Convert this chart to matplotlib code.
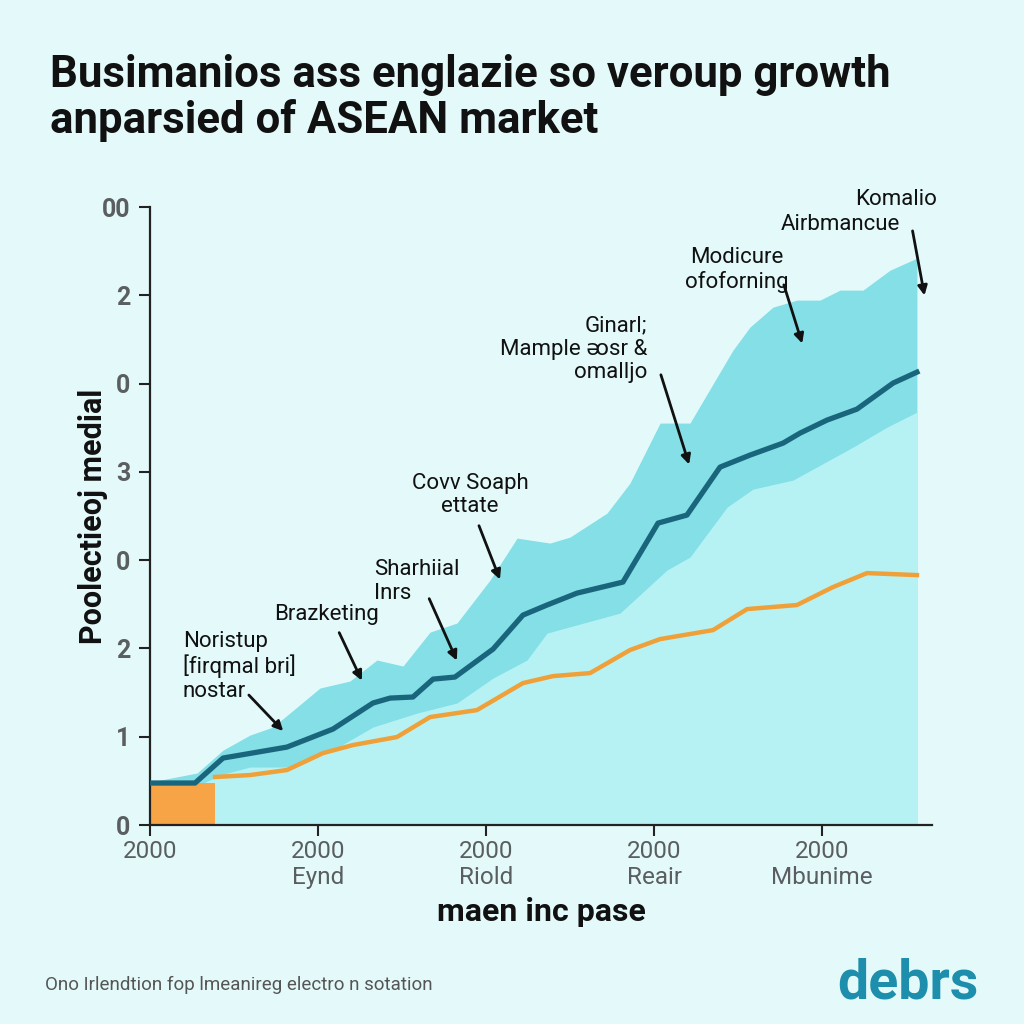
import matplotlib
matplotlib.use("Agg")
import matplotlib.pyplot as plt

# series (x in tick units, y in axis units)
upper_x = [0, 0.280, 0.435, 0.595, 0.732, 1.012, 1.190, 1.351, 1.506, 1.667, 1.827, 2.024, 2.185,
           2.381, 2.500, 2.720, 2.857, 3.036, 3.214, 3.470, 3.571, 3.708, 3.851, 3.988, 4.107,
           4.244, 4.405, 4.565]
upper_y = [0.487, 0.589, 0.849, 1.019, 1.110, 1.552, 1.631, 1.869, 1.801, 2.186, 2.288, 2.775, 3.250,
           3.194, 3.262, 3.533, 3.873, 4.553, 4.553, 5.379, 5.640, 5.866, 5.946, 5.946, 6.059,
           6.059, 6.285, 6.421]

lower_x = [0, 0.268, 0.417, 0.595, 0.815, 1.089, 1.327, 1.589, 1.827, 2.042, 2.244, 2.363, 2.798,
           3.077, 3.214, 3.435, 3.589, 3.827, 4.185, 4.387, 4.565]
lower_y = [0.419, 0.430, 0.566, 0.657, 0.657, 0.849, 1.110, 1.268, 1.382, 1.665, 1.869, 2.174, 2.401,
           2.888, 3.035, 3.601, 3.805, 3.907, 4.281, 4.507, 4.677]

main_x = [0, 0.268, 0.435, 0.815, 1.089, 1.327, 1.429, 1.565, 1.685, 1.815, 2.042, 2.220, 2.363,
          2.542, 2.815, 3.024, 3.196, 3.393, 3.571, 3.768, 3.869, 4.030, 4.208, 4.423, 4.565]
main_y = [0.476, 0.476, 0.759, 0.883, 1.087, 1.382, 1.438, 1.450, 1.653, 1.676, 1.993, 2.378, 2.492,
          2.627, 2.752, 3.420, 3.511, 4.054, 4.190, 4.326, 4.439, 4.587, 4.711, 5.006, 5.130]

orange_x = [0.387, 0.595, 0.815, 1.030, 1.208, 1.470, 1.667, 1.946, 2.220, 2.399, 2.619, 2.857,
            3.036, 3.351, 3.554, 3.851, 4.065, 4.268, 4.565]
orange_y = [0.544, 0.566, 0.623, 0.815, 0.906, 0.997, 1.223, 1.302, 1.608, 1.687, 1.721, 1.982,
            2.106, 2.208, 2.446, 2.492, 2.695, 2.854, 2.831]

bar_x = 0
bar_w = 0.387
bar_h = 0.476

yticks = [0, 1, 2, 3, 4, 5, 6, 7]
ytick_labels = ['0', '1', '2', '0', '3', '0', '2', '00']
xticks = [0, 1, 2, 3, 4]
xtick_labels = ['2000', '2000\nEynd', '2000\nRiold', '2000\nReair', '2000\nMbunime']

# (text, text pos, ha, arrow tail, arrow head)
notes = [
    ("Noristup\n[firqmal bri]\nnostar", (0.196, 1.80), 'left', (0.577, 1.495), (0.804, 1.042)),
    ("Brazketing", (1.048, 2.39), 'center', (1.119, 2.208), (1.268, 1.608)),
    ("Sharhiial\nInrs", (1.333, 2.76), 'left', (1.655, 2.593), (1.833, 1.835)),
    ("Covv Soaph\nettate", (1.905, 3.74), 'center', (1.952, 3.420), (2.089, 2.752)),
    ("Ginarl;\nMample ᴔsr &\nomalljo", (2.958, 5.39), 'right', (3.036, 5.130), (3.214, 4.054)),
    ("Modicure\nofoforning", (3.494, 6.285), 'center', (3.768, 6.149), (3.887, 5.425)),
    ("Komalio", (4.685, 7.089), 'right', None, None),
    ("Airbmancue", (4.464, 6.806), 'right', (4.536, 6.761), (4.613, 5.968)),
]

bg = '#e4fafa'
plt.rcParams['font.family'] = ['Roboto', 'DejaVu Sans']

fig = plt.figure(figsize=(10.24, 10.24), dpi=100, facecolor=bg)
ax = fig.add_axes([0.1465, 0.1943, 0.7637, 0.6035])
ax.set_facecolor(bg)

ax.fill_between(upper_x, upper_y, 0, color='#84dfe6', lw=0, zorder=1)
ax.fill_between(lower_x, 0, lower_y, color='#b6f2f4', lw=0, zorder=1.5)
ax.bar(bar_x, bar_h, width=bar_w, align='edge', color='#f6a445', zorder=2)
ax.plot(orange_x, orange_y, color='#f0a038', lw=3.2, zorder=3)
ax.plot(main_x, main_y, color='#19667c', lw=3.8, zorder=4)

for txt, pos, ha, tail, head in notes:
    ax.text(pos[0], pos[1], txt, ha=ha, va='center', fontsize=16, color='#111111',
            linespacing=1.15, zorder=6)
    if tail is not None:
        ax.annotate('', xy=head, xytext=tail,
                    arrowprops=dict(arrowstyle='-|>', color='#111111', lw=2,
                                    mutation_scale=14), zorder=6)

ax.set_xlim(0, 4.655)
ax.set_ylim(0, 7)
ax.set_yticks(yticks)
ax.set_yticklabels(ytick_labels, fontsize=18, fontweight='bold', color='#5a5e60')
ax.set_xticks(xticks)
ax.set_xticklabels(xtick_labels, fontsize=17.5, color='#5a5e60', linespacing=1.15)
ax.tick_params(axis='both', length=8, width=1.5, color='#222222')
ax.tick_params(axis='x', pad=3)
ax.tick_params(axis='y', pad=6)
for s in ['top', 'right']:
    ax.spines[s].set_visible(False)
for s in ['left', 'bottom']:
    ax.spines[s].set_linewidth(1.6)
    ax.spines[s].set_color('#222222')

ax.set_xlabel('maen inc pase', fontsize=23, fontweight='bold', color='#111111', labelpad=6)
ax.set_ylabel('Poolectieoj medial', fontsize=22, fontweight='bold', color='#111111', labelpad=-4)

fig.text(0.049, 0.904, 'Busimanios ass englazie so veroup growth\nanparsied of ASEAN market',
         fontsize=31.5, fontweight='bold', color='#111111', va='center', ha='left', linespacing=1.08)
fig.text(0.044, 0.038, 'Ono Irlendtion fop lmeanireg electro n sotation', fontsize=13.5,
         color='#555555', va='center')
fig.text(0.956, 0.040, 'debrs', fontsize=40, fontweight='bold', color='#1d8fad',
         ha='right', va='center')

fig.savefig('out.png', dpi=100, facecolor=bg)
